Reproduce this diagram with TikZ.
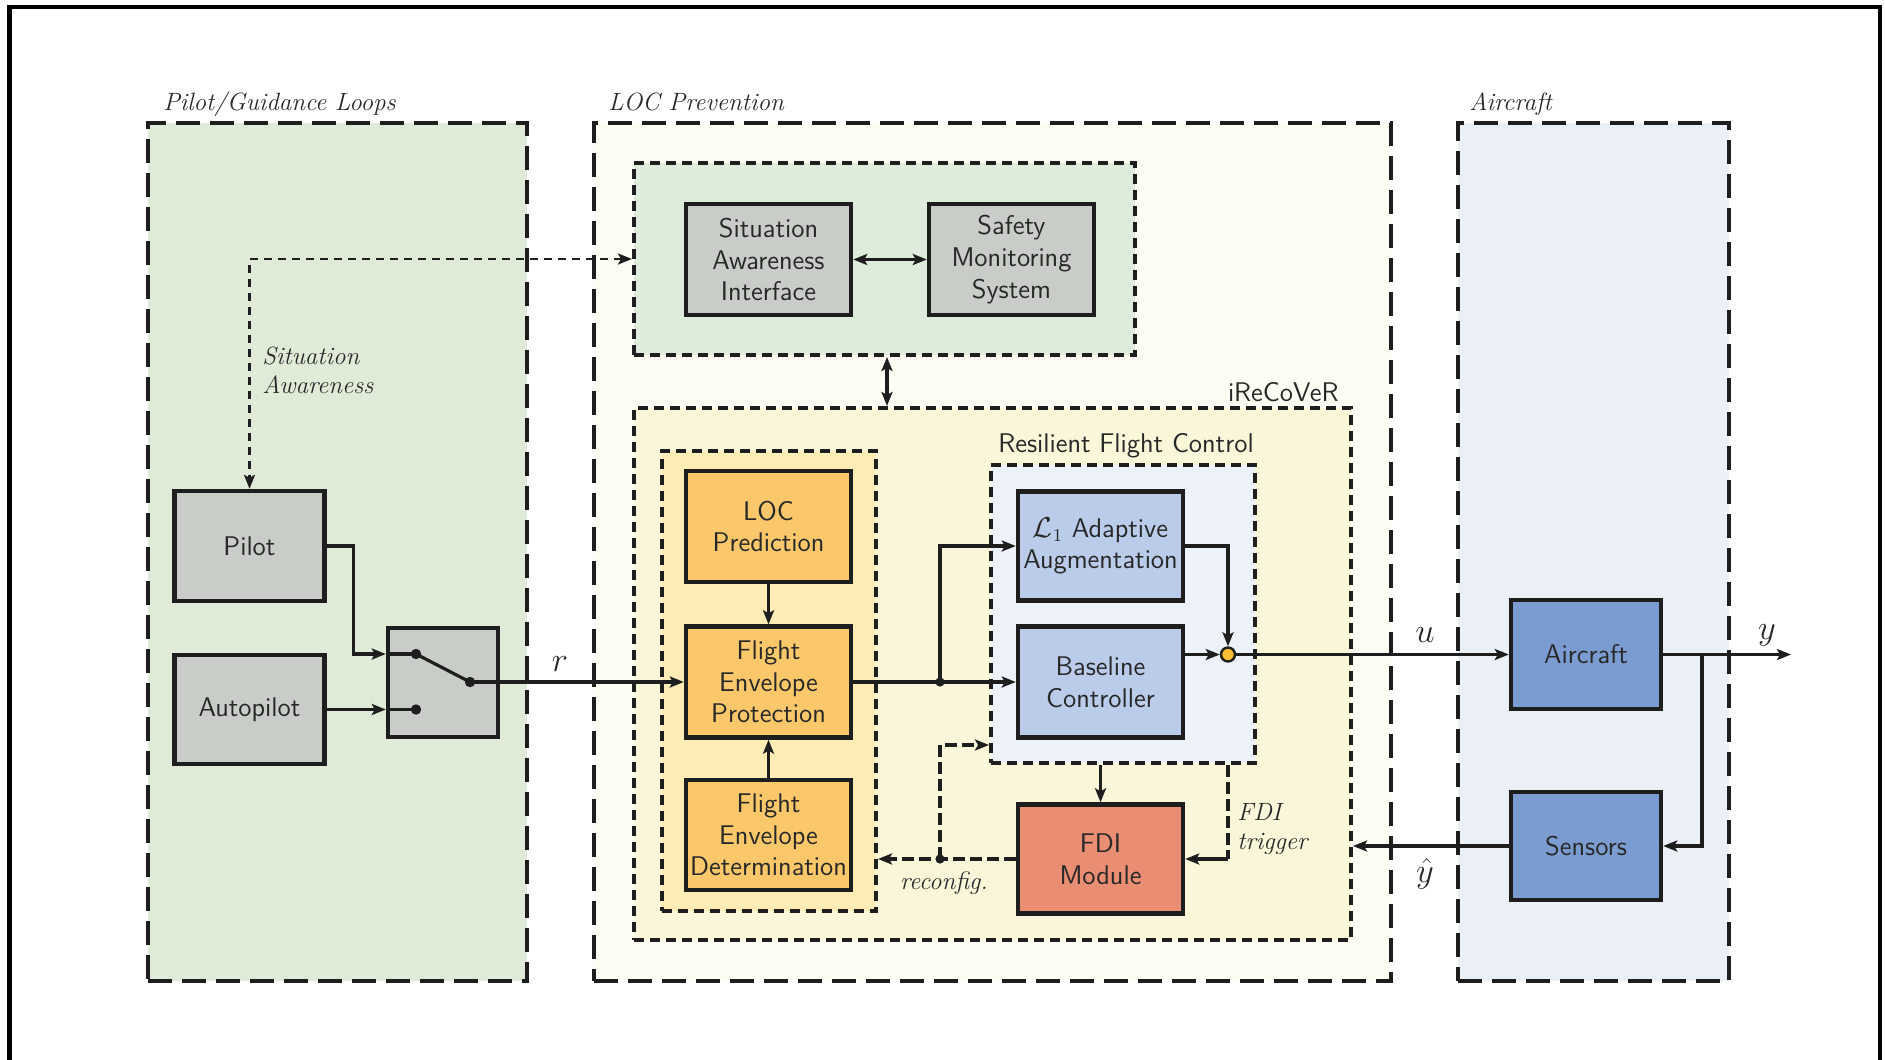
\documentclass[tikz,border=0pt]{standalone}
\usepackage{fontspec}
\usetikzlibrary{arrows.meta,calc}
\definecolor{pgfill}{RGB}{223,235,215}
\definecolor{locfill}{RGB}{254,253,244}
\definecolor{acfill}{RGB}{235,240,247}
\definecolor{topfill}{RGB}{221,236,219}
\definecolor{irecfill}{RGB}{249,246,218}
\definecolor{orfill}{RGB}{253,236,182}
\definecolor{orbox}{RGB}{250,200,106}
\definecolor{rfcfill}{RGB}{237,241,249}
\definecolor{bluebox}{RGB}{186,204,233}
\definecolor{fdifill}{RGB}{233,142,115}
\definecolor{graybox}{RGB}{201,205,199}
\definecolor{acbox}{RGB}{122,156,208}
\definecolor{sumfill}{RGB}{249,190,49}
\definecolor{linec}{RGB}{30,30,30}
\definecolor{textc}{RGB}{40,40,40}
\newcommand{\boxfont}{\sffamily\fontsize{13.5}{15.8}\selectfont}
\newcommand{\lblfont}{\itshape\fontsize{12.5}{14.5}\selectfont}
\newcommand{\mathlblfont}{\fontsize{16}{18}\selectfont}
\begin{document}
\begin{tikzpicture}[x=0.5pt,y=-0.5pt,
  tip/.tip={Stealth[length=7pt,width=5.5pt,inset=1.5pt]},
  ln/.style={draw=linec, line width=1.6pt},
  arr/.style={ln, -tip},
  dbl/.style={ln, tip-tip},
  sadash/.style={draw=linec, line width=1.2pt, dash pattern=on 4pt off 3pt, tip-tip},
  rdash/.style={draw=linec, line width=1.8pt, dash pattern=on 6pt off 2.5pt, -tip},
  fdash/.style={draw=linec, line width=1.8pt, dash pattern=on 6pt off 2.5pt},
  grp/.style={draw=linec, line width=2pt, dash pattern=on 12pt off 5pt, inner sep=0pt},
  subgrp/.style={draw=linec, line width=2pt, dash pattern=on 5pt off 3pt, inner sep=0pt},
  blk/.style={draw=linec, line width=2.2pt, align=center, font=\boxfont, text=textc, inner sep=0pt},
  lbl/.style={font=\lblfont, text=textc, inner sep=0pt},
  slbl/.style={font=\boxfont, text=textc, inner sep=0pt},
  mlbl/.style={font=\mathlblfont, text=textc, inner sep=0pt}
]
\useasboundingbox (0,0) rectangle (1885,1060);
\fill[white] (0,0) rectangle (1885,1060);
% outer frame
\draw[line width=2.4pt, draw=black] (9.5,7) rectangle (1880,1080);

% groups
\node[grp, fill=pgfill, minimum width=189.5pt, minimum height=429pt] (pg) at (337.5,552) {};
\node[grp, fill=locfill, minimum width=398.5pt, minimum height=429pt] (lp) at (992.5,552) {};
\node[grp, fill=acfill, minimum width=135.5pt, minimum height=429pt] (acg) at (1593.5,552) {};
\node[subgrp, fill=topfill, minimum width=250.5pt, minimum height=96pt] (top) at (884.5,259) {};
\node[subgrp, fill=irecfill, minimum width=358.5pt, minimum height=266pt] (irec) at (992.5,674) {};
\node[subgrp, fill=orfill, minimum width=107pt, minimum height=230pt] (orng) at (769,681) {};
\node[subgrp, fill=rfcfill, minimum width=132pt, minimum height=149pt] (rfc) at (1123,614) {};

% group labels
\node[lbl, anchor=base west] (pgl) at (163,110) {Pilot/Guidance Loops};
\node[lbl, anchor=base west] (lpl) at (608,110) {LOC Prevention};
\node[lbl, anchor=base west] (acl) at (1469,110) {Aircraft};
\node[slbl, anchor=base east] (irl) at (1339,401) {iReCoVeR};
\node[slbl, anchor=base] (rfl) at (1126,452) {Resilient Flight Control};

% blocks
\node[blk, fill=graybox, minimum width=82.5pt, minimum height=55.5pt] (sai) at (768.5,259.5) {Situation\\Awareness\\Interface};
\node[blk, fill=graybox, minimum width=82.5pt, minimum height=55.5pt] (sms) at (1011.5,259.5) {Safety\\Monitoring\\System};
\node[blk, fill=graybox, minimum width=75pt, minimum height=55pt] (pilot) at (249.5,546) {Pilot};
\node[blk, fill=graybox, minimum width=75pt, minimum height=54.5pt] (ap) at (249.5,709.5) {Autopilot};
\node[blk, fill=graybox, minimum width=55pt, minimum height=54.5pt] (sw) at (443,682.5) {};
\node[blk, fill=orbox, minimum width=82.5pt, minimum height=55.5pt] (locp) at (768.5,526.5) {LOC\\Prediction};
\node[blk, fill=orbox, minimum width=82.5pt, minimum height=55.5pt] (fep) at (768.5,682) {Flight\\Envelope\\Protection};
\node[blk, fill=orbox, minimum width=82.5pt, minimum height=55pt] (fed) at (768.5,835) {Flight\\Envelope\\Determination};
\node[blk, fill=bluebox, minimum width=82.5pt, minimum height=54.5pt] (l1) at (1100.5,546) {$\mathcal{L}_1$ Adaptive\\Augmentation};
\node[blk, fill=bluebox, minimum width=82.5pt, minimum height=55.5pt] (base) at (1100.5,682) {Baseline\\Controller};
\node[blk, fill=fdifill, minimum width=82.5pt, minimum height=54.5pt] (fdi) at (1100.5,859) {FDI\\Module};
\node[blk, fill=acbox, minimum width=75pt, minimum height=54.5pt] (ac) at (1586,654.5) {Aircraft};
\node[blk, fill=acbox, minimum width=75pt, minimum height=54pt] (sens) at (1586,846) {Sensors};
\node[circle, draw=linec, line width=1.2pt, fill=sumfill, minimum size=7pt, inner sep=0pt] (sum) at (1228,654.5) {};

% switch internals
\coordinate (d1) at (416,654);
\coordinate (d2) at (416,709.5);
\coordinate (d3) at (470,682);
\draw[arr] (pilot.east) -- ++(27,0) |- (sw.west |- d1);
\draw[ln] (sw.west |- d1) -- (d1);
\draw[arr] (ap.east) -- (sw.west |- d2);
\draw[ln] (sw.west |- d2) -- (d2);
\draw[ln] (d1) -- (d3);
\fill[linec] (d1) circle (2.6pt);
\fill[linec] (d2) circle (2.6pt);
\fill[linec] (d3) circle (2.6pt);

% situation awareness
\draw[sadash] (top.west) -| (pilot.north);
\node[lbl, anchor=west, align=left] (sal) at (262,370) {Situation\\Awareness};

% top box links
\draw[dbl] (sai) -- (sms);
\draw[dbl] ($(top.south)+(2.5,0)$) -- ($(top.south |- irec.north)+(2.5,0)$);

% main signal path
\draw[arr] (d3) -- (fep.west);
\node[mlbl] (rl) at (560,664) {$r$};
\draw[arr] (locp.south) -- (fep.north);
\draw[arr] (fed.north) -- (fep.south);
\coordinate (j1) at (940,682);
\draw[arr] (fep.east) -- (base.west);
\draw[arr] (j1) |- (l1.west);
\fill[linec] (j1) circle (2.3pt);
\draw[arr] (l1.east) -| (sum.north);
\draw[arr] (base.east |- sum) -- (sum.west);
\draw[arr] (sum.east) -- (ac.west);
\node[mlbl] (ul) at (1425,635) {$u$};
\coordinate (yout) at (1791,654.5);
\draw[arr] (ac.east) -- (yout);
\node[mlbl] (yl) at (1767,635) {$y$};
\coordinate (br) at (1702,654.5);
\draw[arr] (br) |- (sens.east);
\draw[arr] (sens.west) -- (irec.east |- sens.west);
\node[mlbl] (yhl) at (1425,874) {$\hat{y}$};

% FDI
\draw[arr] (rfc.south -| fdi.north) -- (fdi.north);
\coordinate (ft) at (1228,859);
\draw[fdash] (rfc.south -| ft) -- (ft);
\draw[arr] (ft) -- (fdi.east);
\node[lbl, anchor=west, align=left] (ftl) at (1237,829) {FDI\\trigger};
\coordinate (j2) at (940,859);
\coordinate (j3) at (940,745);
\draw[rdash] (fdi.west) -- (orng.east |- fdi.west);
\draw[rdash] (j2) -- (j3) -- (rfc.west |- j3);
\fill[linec] (j2) circle (2.3pt);
\node[lbl] (rcl) at (944,883) {reconfig.};
\end{tikzpicture}
\end{document}
